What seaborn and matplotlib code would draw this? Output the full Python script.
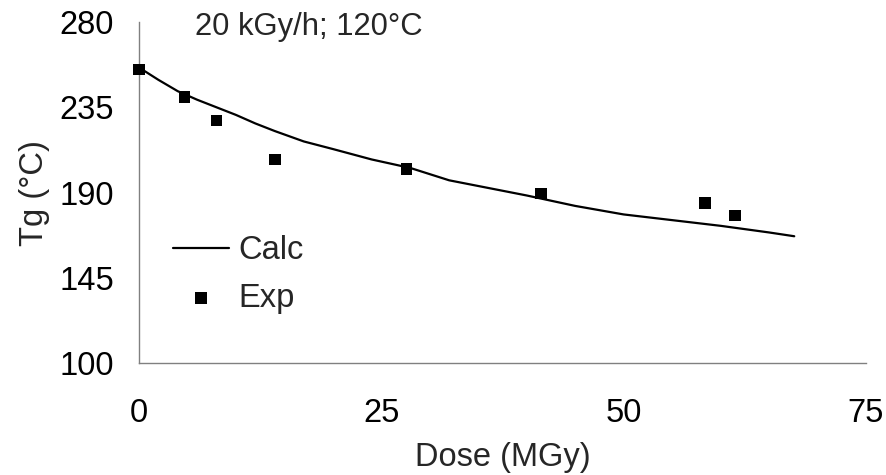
import numpy as np
import pandas as pd
import matplotlib
matplotlib.use("Agg")
import matplotlib.pyplot as plt
import seaborn as sns

# calculated curve
calc_dose = [0, 2, 4, 6, 8, 10, 12, 14, 17, 20, 24, 28, 32, 36, 40, 45, 50, 55, 60, 65, 67.6]
calc_tg = [256, 249.5, 243.5, 239, 235, 231, 226.5, 222.5, 217, 213, 207.5, 203, 196.5, 192.5, 188.5, 183, 178.5, 175.5, 172.5, 169, 167]

# experimental points
exp_dose = [0, 4.7, 8.0, 14.0, 27.6, 41.5, 58.4, 61.5]
exp_tg = [255, 240.5, 228, 207.5, 202.5, 189.5, 184.5, 178]

x_ticks = [0, 25, 50, 75]
y_ticks = [100, 145, 190, 235, 280]

sns.set_style("white")
plt.rcParams['font.family'] = ['Liberation Sans', 'DejaVu Sans']
fs = 23.5

df_calc = pd.DataFrame({'Dose': calc_dose, 'Tg': calc_tg})
df_exp = pd.DataFrame({'Dose': exp_dose, 'Tg': exp_tg})

fig = plt.figure(figsize=(8.87, 4.75), dpi=100)
ax = fig.add_axes([0.1567, 0.2352, 0.8196, 0.7185])

sns.lineplot(data=df_calc, x='Dose', y='Tg', color='black', linewidth=1.6, label='Calc', ax=ax)
sns.scatterplot(data=df_exp, x='Dose', y='Tg', marker='s', s=70, color='black',
                edgecolor='none', label='Exp', ax=ax, clip_on=False, zorder=3)

ax.set_xlim(0, 75)
ax.set_ylim(100, 280)
ax.set_xticks(x_ticks)
ax.set_yticks(y_ticks)
ax.set_xlabel('Dose (MGy)', fontsize=fs, labelpad=9)
ax.set_ylabel('Tg (°C)', fontsize=fs, labelpad=7)

for s in ['top', 'right']:
    ax.spines[s].set_visible(False)
for s in ['left', 'bottom']:
    ax.spines[s].set_color('#808080')
    ax.spines[s].set_linewidth(1)
ax.tick_params(axis='both', direction='out', length=7, width=1, color='#808080',
               labelsize=fs, labelcolor='black')
ax.tick_params(axis='x', pad=18)
ax.tick_params(axis='y', pad=11)

ax.text(0.077, 0.985, '20 kGy/h; 120°C', transform=ax.transAxes,
        fontsize=22.3, ha='left', va='center')

ax.legend(loc='upper left', bbox_to_anchor=(0.047, 0.375), frameon=False,
          fontsize=fs, handlelength=1.7, handletextpad=0.3, labelspacing=0.5,
          borderpad=0, borderaxespad=0)

fig.savefig('out.png', dpi=100)
